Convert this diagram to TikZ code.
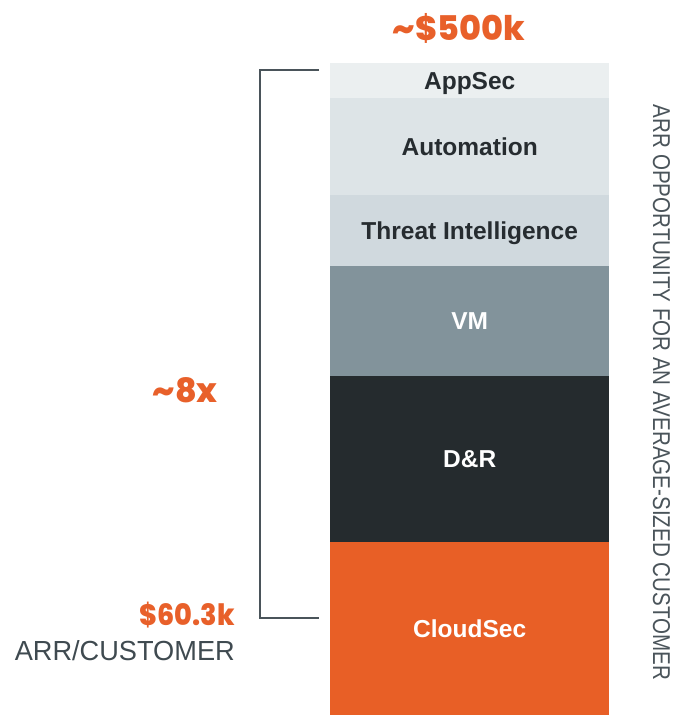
\documentclass[tikz,border=0pt]{standalone}
\usepackage{fontspec}
\usepackage{graphicx}
\setmainfont{Liberation Sans}
\newfontfamily\numfont{Poppins ExtraBold}
\definecolor{cAppSec}{HTML}{EBEFF0}
\definecolor{cAuto}{HTML}{DDE4E7}
\definecolor{cTI}{HTML}{D0D9DE}
\definecolor{cVM}{HTML}{82939B}
\definecolor{cDR}{HTML}{252B2E}
\definecolor{cCloud}{HTML}{E85F26}
\definecolor{cOrange}{HTML}{E8602A}
\definecolor{cDark}{HTML}{262C30}
\definecolor{cGrayText}{HTML}{3F4A50}
\definecolor{cBracket}{HTML}{4A545A}
\begin{document}
\begin{tikzpicture}[x=1pt,y=-1pt,
  seg/.style={draw=none, inner sep=0pt, minimum width=279pt, anchor=north west,
    text height=17.5pt, text depth=0pt,
    font=\fontsize{24.5}{26}\selectfont\bfseries},
  darklabel/.style={text=cDark},
  lightlabel/.style={text=white},
  bignum/.style={inner sep=0pt, text=cOrange, font=\numfont},
  graytext/.style={inner sep=0pt, text=cGrayText},
  bracket/.style={draw=cBracket, line width=1.5pt}]
\useasboundingbox (0,0) rectangle (673,715);

\node[seg, darklabel, fill=cAppSec, minimum height=35pt] (appsec) at (330,63) {AppSec};
\node[seg, darklabel, fill=cAuto, minimum height=97pt] (auto) at (330,98) {Automation};
\node[seg, darklabel, fill=cTI, minimum height=71pt] (ti) at (330,195) {Threat Intelligence};
\node[seg, lightlabel, fill=cVM, minimum height=110pt] (vm) at (330,266) {VM};
\node[seg, lightlabel, fill=cDR, minimum height=166pt] (dr) at (330,376) {D\&R};
\node[seg, lightlabel, fill=cCloud, minimum height=173pt] (cloud) at (330,542) {CloudSec};

\node[bignum] (top) at (459,28) {\resizebox*{132pt}{30pt}{\textasciitilde\$500k}};
\node[bignum, anchor=east] (mult) at (218,390.5) {\resizebox{65pt}{25pt}{\textasciitilde8x}};
\node[bignum, anchor=east] (base) at (235,615) {\resizebox*{95pt}{26pt}{\$60.3k}};
\node[graytext, anchor=base east] (arr) at (235,660) {\resizebox{220pt}{20pt}{ARR/CUSTOMER}};

\node[graytext, rotate=-90, text=cBracket] (side) at (661.5,392.5)
  {\resizebox{575pt}{17pt}{ARR OPPORTUNITY FOR AN AVERAGE-SIZED CUSTOMER}};

\coordinate (btop) at (319,70);
\coordinate (bbot) at (319,618);
\draw[bracket] (btop) -- (260,70) -- (260,618) -- (bbot);
\end{tikzpicture}
\end{document}
